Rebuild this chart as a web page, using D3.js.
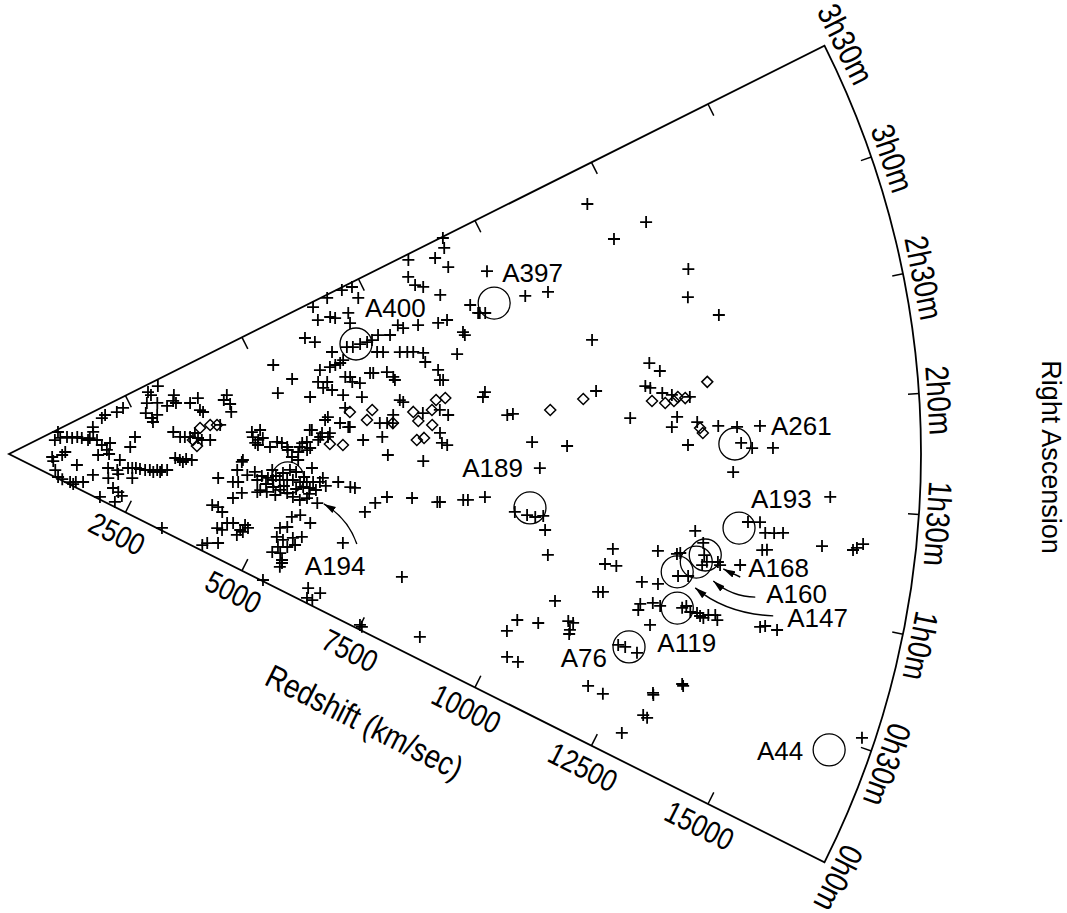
<!DOCTYPE html>
<html lang="en">
<head>
  <meta charset="UTF-8">
  <title>Redshift wedge</title>
  <script src="https://cdn.jsdelivr.net/npm/d3@7"></script>
  <style>
    body { margin: 0; background: #fff; }
    text { font-family: "Liberation Sans", Arial, Helvetica, sans-serif; fill: #000; }
  </style>
</head>
<body>
<div id="chart"></div>
<script>

// galaxies: [right ascension (hours), redshift (km/s)]
var galaxies = [
  [2.862,920],[2.896,1030],[2.825,1160],[2.687,1250],[2.673,1350],[2.562,1430],[3.341,1030],[1.487,830],[1.678,1020],[1.885,1080],
  [1.156,860],[1.145,1320],[0.488,940],[0.098,1040],[0.088,1130],[0.128,1290],[0.098,1360],[0.258,1390],[0.389,1520],[0.827,1660],
  [1.221,1920],[0.855,1960],[1.196,2100],[1.547,2130],[1.066,2130],[2.410,1540],[2.920,1690],[2.715,1670],[2.485,1580],[2.344,1710],
  [2.114,1790],[2.159,1950],[1.905,1880],[1.750,1920],[1.708,1710],[3.141,1910],[3.203,1990],[3.148,2220],[3.196,2360],[0.559,2100],
  [0.486,2220],[0.409,2310],[0.087,1930],[0.148,2230],[3.364,3140],[3.331,2920],[3.234,2950],[3.084,2820],[3.001,3010],[3.044,3360],
  [2.928,3310],[2.867,3350],[2.862,3170],[2.785,3610],[2.836,3780],[2.603,3760],[2.553,3810],[2.746,4330],[2.678,4250],[2.588,4350],
  [2.455,4340],[2.846,2740],[2.679,2830],[2.574,2830],[2.721,2940],[2.256,2440],[1.968,2330],[1.309,2300],[1.323,2380],[1.336,2450],
  [1.320,2530],[1.309,2630],[1.324,2720],[1.344,2860],[1.357,2950],[1.370,3050],[1.024,2410],[2.252,3180],[2.124,3300],[2.113,3390],
  [2.103,3490],[2.174,3590],[2.068,3640],[2.023,3710],[2.012,3870],[2.265,4090],[1.659,3190],[1.618,3280],[1.577,3340],[1.644,3400],
  [1.626,3510],[1.282,2790],[1.303,2920],[0.052,3260],[0.090,4100],[0.158,4170],[0.233,4360],[0.822,4020],[0.814,4140],[0.749,4240],
  [0.595,4390],[0.624,4500],[0.553,4670],[0.619,4800],[0.463,4640],[0.459,4340],[0.462,4240],[1.319,4040],[1.282,4330],[1.486,4390],
  [1.621,4470],[1.292,4430],[1.125,4530],[1.019,4380],[1.653,4490],[2.090,4680],[2.012,4690],[1.962,4790],[1.987,4880],[1.919,4730],
  [2.109,4840],[1.886,4780],[1.851,5010],[1.919,5150],[1.902,5240],[1.804,5350],[1.710,5430],[1.776,5550],[1.672,5550],[1.891,5630],
  [1.902,5720],[1.825,5780],[2.048,5830],[2.002,6020],[1.921,5940],[1.951,6130],[1.576,5820],[1.845,5340],[1.841,5580],[1.800,5720],
  [1.475,4730],[1.418,4590],[1.357,4790],[1.213,4870],[1.402,4990],[1.380,5090],[1.390,5220],[1.399,5360],[1.406,5470],[1.388,5610],
  [1.397,5740],[1.404,5860],[1.412,5990],[1.282,5110],[1.253,5250],[1.225,5390],[1.184,5510],[1.159,5650],[1.197,5780],[1.155,5990],
  [1.329,5680],[1.326,5810],[1.463,6040],[1.489,5270],[1.536,5400],[1.521,5060],[1.199,5000],[1.174,5170],[0.925,5560],[0.971,5710],
  [0.901,5930],[0.783,5520],[0.746,5390],[0.618,5380],[0.604,5510],[0.496,5460],[0.406,5390],[0.430,5540],[0.354,5620],[0.262,5630],
  [0.534,5630],[0.666,5680],[0.710,5840],[0.589,5760],[0.649,4730],[0.538,4730],[0.014,5440],[0.162,6290],[0.166,6540],[0.054,6350],
  [0.058,6460],[0.318,5640],[1.177,4820],[2.185,6160],[2.154,6100],[2.102,6380],[2.049,6530],[2.050,5790],[1.956,5980],[1.996,6170],
  [1.430,6340],[1.386,6580],[1.381,6670],[1.142,6920],[1.249,7090],[1.323,7300],[1.340,7780],[1.329,8270],[1.332,8320],[1.370,8760],
  [1.374,8850],[1.410,9170],[0.769,6630],[0.607,7900],[0.042,7490],[0.033,7540],[0.171,8630],[2.064,7140],[2.058,7280],[2.053,7390],
  [2.132,7410],[2.244,7630],[1.934,8280],[2.134,8310],[2.084,8460],[1.827,8410],[1.846,8310],[1.686,7950],[1.740,7270],[1.922,7170],
  [1.899,6800],[3.491,9300],[3.417,9240],[3.375,9000],[3.267,9160],[3.455,8520],[3.324,8380],[3.236,8440],[3.195,8570],[3.082,8820],
  [3.127,9820],[3.458,7320],[3.475,7120],[3.334,7340],[3.469,6800],[3.447,6480],[3.292,6460],[3.270,6700],[3.239,6780],[3.235,7050],
  [3.132,7010],[3.158,6100],[3.072,6250],[2.903,6500],[2.905,6800],[2.886,6910],[2.894,7060],[2.892,7200],[2.896,7300],[2.925,7440],
  [2.769,7330],[2.753,7440],[2.891,7660],[2.956,7860],[2.916,7940],[2.901,8230],[2.867,8610],[2.869,8790],[2.712,7750],[2.696,7890],
  [2.682,8000],[2.652,8180],[2.570,8180],[2.577,8810],[2.739,9020],[2.712,9040],[2.928,9300],[2.851,9400],[2.238,9210],[2.201,9160],
  [2.975,5350],[2.726,5620],[2.590,5290],[2.455,5880],[2.744,6180],[2.747,6380],[2.754,6490],[2.761,6590],[2.783,6660],[2.613,6090],
  [2.589,6260],[2.531,6160],[2.487,6320],[2.599,6620],[2.587,6710],[2.530,6730],[2.502,6870],[2.408,6510],[2.353,6860],[2.582,7100],
  [2.575,7160],[2.555,7420],[2.496,7520],[2.464,7540],[2.267,7570],[2.479,8390],[2.390,8390],[2.386,8450],[2.122,7980],[2.048,6560],
  [2.263,6510],
  [1.312,4965],[1.440,5140],[1.313,5310],[1.293,5550],[1.457,5680],[1.310,5930],[1.371,6110],[1.514,5520],[1.251,5810],[1.423,4870],
  [3.288,12090],[3.066,13010],[3.037,12320],[2.752,13510],[2.606,13370],[2.479,13880],[2.870,10360],[2.851,10800],[2.847,9430],[2.835,9530],
  [2.478,11400],[2.282,12410],[2.228,12590],[2.151,12280],[2.137,12370],[2.101,12590],[2.085,12770],[2.065,13110],[2.153,11330],[2.044,9590],
  [2.049,9700],[1.836,10040],[1.804,10710],[1.968,11940],[1.959,12840],[1.903,12730],[1.925,13220],[1.899,13620],[1.890,13980],[1.807,14050],
  [1.800,13030],[1.780,14260],[1.891,14420],[1.780,14660],[1.656,13900],[1.553,15780],[1.404,14240],[1.409,14470],[1.358,14590],[1.362,14760],
  [1.367,14930],[1.272,14570],[1.276,14660],[1.325,15700],[1.323,16300],[1.334,16370],[1.354,16480],[1.329,13250],[1.162,11730],[1.062,11630],
  [1.063,11850],[1.191,12590],[1.190,12960],[1.198,13020],[1.270,13430],[1.206,13480],[1.172,13550],[1.180,13760],[1.166,13810],[1.151,13470],
  [1.182,14190],[1.070,13050],[1.080,13240],[0.998,12390],[1.005,12700],[0.871,12450],[0.893,12680],[0.886,12830],[0.903,13250],[0.918,13320],
  [0.891,13420],[0.894,13550],[0.882,13620],[0.876,13690],[0.905,13900],[0.882,13960],[0.897,13770],[0.768,12730],[0.897,14790],[0.907,14880],
  [0.901,15120],[1.052,10520],[0.883,11610],[0.890,11700],[0.759,10850],[0.834,12440],[0.560,10260],[0.463,10140],[0.585,10660],[0.656,11200],
  [0.653,11300],[0.605,11280],[0.578,11290],[0.605,12250],[0.606,12390],[0.594,12640],[0.292,10320],[0.288,10550],[0.314,11970],[0.303,12290],
  [0.509,13650],[0.501,13680],[0.411,13180],[0.401,13200],[0.278,13160],[0.272,13250],[0.140,12920],[0.539,17250],
  [1.320,9770],[1.308,10010],[1.301,10170],[1.315,10320],[1.219,10390],[1.650,10190]
];

// second sample, drawn as diamonds: [RA (h), redshift (km/s)]
var diamonds = [
  [2.260,3700],[2.290,3900],[2.272,4030],[1.911,3610],[2.036,3540],[2.212,6590],[2.204,7020],[2.107,6900],[2.053,7390],[2.141,7800],
  [2.053,7880],[2.141,8160],[2.224,8260],[2.231,8440],[2.008,8140],[1.879,7830],[1.896,7970],[1.868,6160],[1.851,6410],[2.138,13470],
  [2.060,12380],[2.042,12630],[2.050,12800],[2.070,12880],[2.061,13020],[1.892,13270],[1.864,13320],[2.110,11070],[2.056,10420]
];

// Abell clusters
var clusterNames = ["A400", "A397", "A261", "A193", "A168", "A160", "A147", "A119", "A76", "A189", "A194", "A44"];
var clusterRA    = [2.907, 2.887, 1.802, 1.369, 1.207, 1.162, 1.092, 0.896, 0.613, 1.361, 1.427, 0.445];
var clusterCz    = [6985, 9750, 13930, 14080, 13500, 13350, 13020, 13160, 12460, 10050, 5370, 16730];

// axes
var czTicks = [2500, 5000, 7500, 10000, 12500, 15000];
var raTicks = [0, 0.5, 1, 1.5, 2, 2.5, 3, 3.5];
var raTickLabels = ["0h0m", "0h30m", "1h0m", "1h30m", "2h0m", "2h30m", "3h0m", "3h30m"];
var czMax = 17500;

var W = 1067, H = 913;
var cx = 9, cy = 454;          // apex of the wedge
var R = 912;

var svg = d3.select("#chart").append("svg")
    .attr("width", W)
    .attr("height", H)

var rScale = d3.scaleLinear().domain([0, czMax]).range([0, R]);
// screen angle in degrees (0 = pointing right, positive = downward)
var aScale = d3.scaleLinear().domain([0, 3.5]).range([26.6, -26.6]);

function rad(d) { return d * Math.PI / 180; }
function pos(ra, cz) {
    var a = rad(aScale(ra)), r = rScale(cz);
    return [cx + r * Math.cos(a), cy + r * Math.sin(a)];
}

// wedge outline
var wedge = d3.arc()
    .innerRadius(0)
    .outerRadius(R)
    .startAngle(rad(aScale(3.5) + 90))
    .endAngle(rad(aScale(0) + 90));

svg.append("path")
    .attr("transform", "translate(" + cx + "," + cy + ")")
    .attr("d", wedge())
    .style("fill", "none")
    .style("stroke", "#000")
    .style("stroke-width", 1.8)
    .style("stroke-linejoin", "miter")

// redshift ticks on both straight edges
czTicks.forEach(function(v) {
    [0, 3.5].forEach(function(ra) {
        var p = pos(ra, v), a = rad(aScale(ra));
        var nx = ra === 0 ? Math.sin(a) : -Math.sin(a);
        var ny = ra === 0 ? -Math.cos(a) : Math.cos(a);
        svg.append("line")
            .attr("x1", p[0]).attr("y1", p[1])
            .attr("x2", p[0] + 13 * nx).attr("y2", p[1] + 13 * ny)
            .style("stroke", "#000")
            .style("stroke-width", 1.5)
    })
})

// redshift tick labels along the lower edge
var a0 = rad(aScale(0));
czTicks.forEach(function(v) {
    var p = pos(0, v);
    var x = p[0] - 23 * Math.sin(a0) + 2 * Math.cos(a0), y = p[1] + 23 * Math.cos(a0) + 2 * Math.sin(a0);
    svg.append("text")
        .attr("transform", "translate(" + x + "," + y + ") rotate(" + aScale(0) + ") scale(0.84,1)")
        .attr("text-anchor", "middle")
        .attr("dominant-baseline", "central")
        .style("font-size", "31px")
        .text(v)
})

// axis title along the lower edge
var tp = pos(0, 8400);
svg.append("text")
    .attr("transform", "translate(" + (tp[0] - 80 * Math.sin(a0)) + "," + (tp[1] + 80 * Math.cos(a0)) + ") rotate(" + aScale(0) + ") scale(0.84,1)")
    .attr("text-anchor", "middle")
    .attr("dominant-baseline", "central")
    .style("font-size", "33px")
    .text("Redshift (km/sec)")

// RA ticks on the arc
raTicks.slice(1, -1).forEach(function(ra) {
    var p1 = pos(ra, czMax), p2 = pos(ra, rScale.invert(R - 11));
    svg.append("line")
        .attr("x1", p1[0]).attr("y1", p1[1])
        .attr("x2", p2[0]).attr("y2", p2[1])
        .style("stroke", "#000")
        .style("stroke-width", 1.5)
})

// RA labels outside the arc
raTicks.forEach(function(ra, i) {
    var a = rad(aScale(ra)), r = R + 20;
    var x = cx + r * Math.cos(a) - 8 * Math.sin(a);
    var y = cy + r * Math.sin(a) + 8 * Math.cos(a);
    svg.append("text")
        .attr("transform", "translate(" + x + "," + y + ") rotate(" + (aScale(ra) + 90) + ") scale(0.84,1)")
        .attr("text-anchor", "middle")
        .attr("dominant-baseline", "central")
        .style("font-size", "33px")
        .text(raTickLabels[i])
})

svg.append("text")
    .attr("transform", "translate(1051,457) rotate(90)")
    .attr("text-anchor", "middle")
    .attr("dominant-baseline", "central")
    .style("font-size", "27px")
    .text("Right Ascension")

// galaxies as plus signs
svg.append("g").selectAll("path")
    .data(galaxies)
    .enter().append("path")
    .attr("transform", function(d) { var p = pos(d[0], d[1]); return "translate(" + p[0] + "," + p[1] + ")"; })
    .attr("d", "M-6,0H6M0,-6V6")
    .style("stroke", "#000")
    .style("stroke-width", 1.8)

svg.append("g").selectAll("path")
    .data(diamonds)
    .enter().append("path")
    .attr("transform", function(d) { var p = pos(d[0], d[1]); return "translate(" + p[0] + "," + p[1] + ")"; })
    .attr("d", "M0,-5.5L5.5,0L0,5.5L-5.5,0Z")
    .style("fill", "none")
    .style("stroke", "#000")
    .style("stroke-width", 1.5)

// cluster circles and names
var labelLayout = {
    A400: ["start", 9, -27], A397: ["start", 8, -21], A261: ["start", 36, -9], A193: ["start", 12, -20],
    A168: ["start", 43, 22], A160: ["start", 70, 41], A147: ["start", 110, 55], A119: ["start", -20, 44],
    A76: ["end", -22, 20], A189: ["end", -7, -31], A194: ["start", 17, 97], A44: ["end", -26, 10]
};
// curved pointers: tail, control, head (offsets from the circle centre)
var pointers = {
    A194: [[69, 66], [60, 40], [36, 26]],
    A168: [[35, 22], [26, 18], [18, 14]],
    A160: [[59, 35], [36, 35], [17, 19]],
    A147: [[96, 44], [49, 42], [18, 16]]
};

svg.append("defs").append("marker")
    .attr("id", "head")
    .attr("viewBox", "0 -4 12 8")
    .attr("refX", 12).attr("refY", 0)
    .attr("markerWidth", 12).attr("markerHeight", 8)
    .attr("markerUnits", "userSpaceOnUse")
    .attr("orient", "auto")
    .append("path")
    .attr("d", "M0,-3.5L12,0L0,3.5Z")
    .style("fill", "#000")

clusterNames.forEach(function(name, i) {
    var p = pos(clusterRA[i], clusterCz[i]);
    svg.append("circle")
        .attr("cx", p[0]).attr("cy", p[1])
        .attr("r", 16)
        .style("fill", "none")
        .style("stroke", "#000")
        .style("stroke-width", 1.3)

    var l = labelLayout[name];
    svg.append("text")
        .attr("x", p[0] + l[1])
        .attr("y", p[1] + l[2])
        .attr("text-anchor", l[0])
        .style("font-size", "26px")
        .text(name)

    if (pointers[name]) {
        var q = pointers[name];
        var path = d3.path();
        path.moveTo(p[0] + q[0][0], p[1] + q[0][1]);
        path.quadraticCurveTo(p[0] + q[1][0], p[1] + q[1][1], p[0] + q[2][0], p[1] + q[2][1]);
        svg.append("path")
            .attr("d", path.toString())
            .style("fill", "none")
            .style("stroke", "#000")
            .style("stroke-width", 1.4)
            .attr("marker-end", "url(#head)")
    }
})

</script>
</body>
</html>
